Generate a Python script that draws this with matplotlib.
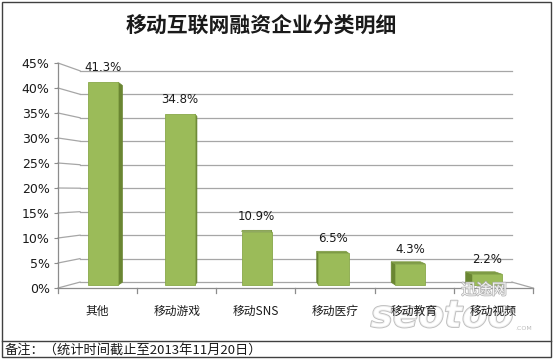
import matplotlib
matplotlib.use('Agg')
import matplotlib.pyplot as plt
from matplotlib.patches import Polygon, Rectangle
from matplotlib.lines import Line2D
import matplotlib.patheffects as pe

# ---------------- data ----------------
categories = ['其他', '移动游戏', '移动SNS', '移动医疗', '移动教育', '移动视频']
values = [41.3, 34.8, 10.9, 6.5, 4.3, 2.2]
ytick_values = [0, 5, 10, 15, 20, 25, 30, 35, 40, 45]
ytick_labels = ['%d%%' % v for v in ytick_values]
value_labels = ['%.1f%%' % v for v in values]
title = '移动互联网融资企业分类明细'
note = '备注：（统计时间截止至2013年11月20日）'

plt.rcParams['font.family'] = ['Noto Sans CJK SC', 'DejaVu Sans']
latin = ['DejaVu Sans', 'Noto Sans CJK SC']

W, H = 554, 360
fig = plt.figure(figsize=(W / 100, H / 100), dpi=100)
fig.patch.set_facecolor('white')
ax = fig.add_axes([58 / W, 72 / H, 475 / W, 225 / H])
ax.set_xlim(-0.5, 5.5)
ax.set_ylim(0, 45)
for s in ax.spines.values():
    s.set_visible(False)
ax.patch.set_visible(False)

# perspective styling constants
back_x0, back_x1 = -0.222, 5.234
def back_y(v):
    return 0.6 + 0.956 * v
def front_y(v):
    return -0.6 + 1.018 * v
VX, VY, R = 2.06, 19.0, 0.03
grid_c = '#a6a6a6'

# y ticks on the front edge of the left wall
ax.set_yticks([front_y(v) for v in ytick_values])
ax.set_yticklabels(ytick_labels, family=latin)
ax.tick_params(axis='y', length=3, width=0.8, color='#8c8c8c', pad=3,
               labelsize=9, labelcolor='#1a1a1a')
ax.set_xticks([])

# walls: gridlines
for v in ytick_values:
    ax.add_line(Line2D([back_x0, back_x1], [back_y(v)] * 2, color=grid_c, lw=0.9,
                       clip_on=False, zorder=1))
    ax.add_line(Line2D([-0.5, back_x0], [front_y(v), back_y(v)], color=grid_c, lw=0.9,
                       clip_on=False, zorder=1))
# front axis line
ax.add_line(Line2D([-0.5, -0.5], [front_y(0), front_y(45)], color='#8c8c8c', lw=0.9,
                   clip_on=False, zorder=1))
# floor
ax.add_line(Line2D([-0.5, 5.5], [front_y(0), front_y(0)], color='#8c8c8c', lw=0.9,
                   clip_on=False, zorder=1))
ax.add_line(Line2D([back_x1, 5.5], [back_y(0), front_y(0)], color=grid_c, lw=0.9,
                   clip_on=False, zorder=1))
for k in range(len(categories) + 1):
    xk = k - 0.5
    ax.add_line(Line2D([xk, xk], [front_y(0), front_y(0) - 1.0], color='#8c8c8c', lw=0.9,
                       clip_on=False, zorder=1))

# bars
bw = 0.38
front_c = '#9BBB59'
side_c = '#6A8632'
top_c = '#7E9B45'
for i, v in enumerate(values):
    c = 0.07 + 0.97 * i
    x0, x1 = c - bw / 2, c + bw / 2
    bx0 = x0 + (VX - x0) * R
    bx1 = x1 + (VX - x1) * R
    by0 = 0 + (VY - 0) * R
    by1 = v + (VY - v) * R
    if c < VX:
        side = [(x1, 0), (bx1, by0), (bx1, by1), (x1, v)]
    else:
        side = [(x0, 0), (bx0, by0), (bx0, by1), (x0, v)]
    ax.add_patch(Polygon(side, closed=True, facecolor=side_c, edgecolor=side_c,
                         lw=0.5, zorder=2, clip_on=False))
    if by1 > v:
        top = [(x0, v), (x1, v), (bx1, by1), (bx0, by1)]
        ax.add_patch(Polygon(top, closed=True, facecolor=top_c, edgecolor=top_c,
                             lw=0.5, zorder=2, clip_on=False))
    ax.bar(c, v, width=bw, color=front_c, edgecolor='#88A84A', linewidth=0.6,
           zorder=3, clip_on=False)
    ax.text(c, v + 3.0, value_labels[i], ha='center', va='center', fontsize=8.5,
            color='#1a1a1a', zorder=6, family=latin)

# category labels
for i, cat in enumerate(categories):
    ax.text(i, -5.4, cat, ha='center', va='center', fontsize=8.5,
            color='#1a1a1a', zorder=6, clip_on=False)

# watermark
wm = [pe.withStroke(linewidth=1.3, foreground='#a8a8a8')]
ax.text(442 / W, 1 - 317 / H, 'seotoo', transform=fig.transFigure, ha='center',
        va='center', fontsize=27, style='italic', weight='bold', color='white',
        alpha=0.75, path_effects=wm, zorder=4, family='DejaVu Sans')
ax.text(484 / W, 1 - 290 / H, '迅途网', transform=fig.transFigure, ha='center',
        va='center', fontsize=11, color='white', alpha=0.85,
        path_effects=[pe.withStroke(linewidth=1.1, foreground='#a8a8a8')], zorder=4)
ax.text(524 / W, 1 - 328 / H, '.COM', transform=fig.transFigure, ha='center',
        va='center', fontsize=4.5, color='#bbbbbb', zorder=4, family='DejaVu Sans')

# title and note
fig.text(261 / W, 1 - 26 / H, title, ha='center', va='center', fontsize=15,
         weight='bold', color='#1a1a1a')
fig.text(5 / W, 1 - 350 / H, note, ha='left', va='center', fontsize=9.5,
         color='#1a1a1a')

# frames
fig.add_artist(Rectangle((2 / W, 3 / H), 549 / W, 355 / H, transform=fig.transFigure,
                         fill=False, edgecolor='#404040', lw=1))
fig.add_artist(Line2D([2 / W, 551 / W], [19 / H, 19 / H], transform=fig.transFigure,
                      color='#404040', lw=1))

fig.savefig('out.png', dpi=100, facecolor='white')
